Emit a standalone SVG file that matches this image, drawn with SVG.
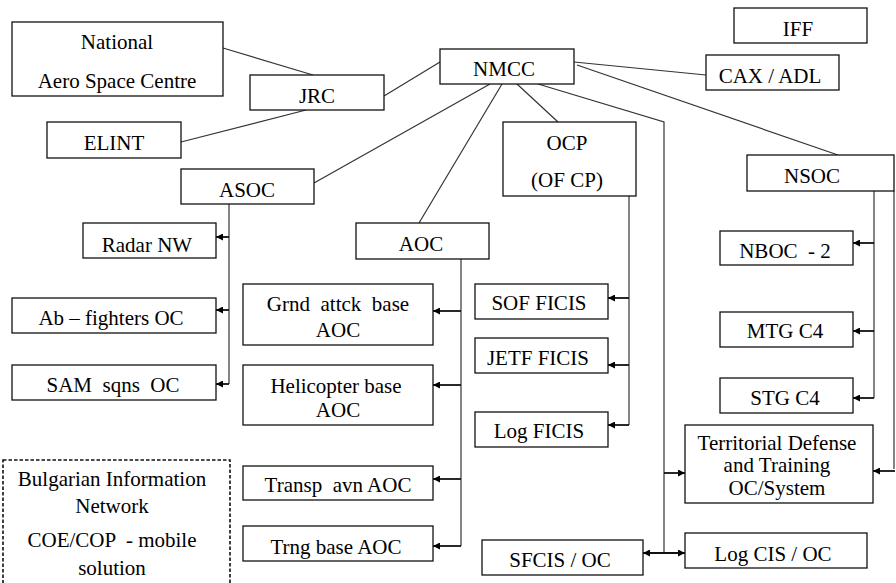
<svg xmlns="http://www.w3.org/2000/svg" width="896" height="583" viewBox="0 0 896 583">
  <defs>
    <marker id="arr" viewBox="0 0 10 10" refX="10" refY="5" markerWidth="8" markerHeight="7" markerUnits="userSpaceOnUse" orient="auto-start-reverse">
      <path d="M0,0 L10,5 L0,10 z" fill="#000"/>
    </marker>
    <style>
      .box { fill: #fff; stroke: #111; stroke-width: 1.3; }
      .dash { fill: none; stroke: #111; stroke-width: 1.6; stroke-dasharray: 3.5 2; }
      .ln { fill: none; stroke: #333; stroke-width: 1.2; }
      .ar { fill: none; stroke: #111; stroke-width: 1.8; marker-end: url(#arr); }
      .ar2 { fill: none; stroke: #111; stroke-width: 1.8; marker-start: url(#arr); marker-end: url(#arr); }
      text { font-family: "Liberation Serif", "Times New Roman", serif; font-size: 21px; fill: #000; text-anchor: middle; }
    </style>
  </defs>

  <!-- connectors -->
  <g id="connectors">
    <line class="ln" x1="223" y1="48" x2="313" y2="75"/>
    <line class="ln" x1="181" y1="142" x2="306" y2="110"/>
    <line class="ln" x1="384" y1="96" x2="440" y2="62"/>
    <line class="ln" x1="314" y1="183" x2="490" y2="84"/>
    <line class="ln" x1="502" y1="84" x2="419" y2="223"/>
    <line class="ln" x1="517" y1="84" x2="558" y2="122"/>
    <polyline class="ln" points="538,84 664,122 664,553"/>
    <line class="ln" x1="574" y1="62" x2="706" y2="75"/>
    <line class="ln" x1="577" y1="65" x2="838" y2="155"/>

    <!-- ASOC branch -->
    <line class="ln" x1="229" y1="204" x2="229" y2="384"/>
    <line class="ar" x1="229" y1="237" x2="216" y2="237"/>
    <line class="ar" x1="229" y1="310" x2="216" y2="310"/>
    <line class="ar" x1="229" y1="384" x2="216" y2="384"/>

    <!-- AOC branch -->
    <line class="ln" x1="461" y1="259" x2="461" y2="546"/>
    <line class="ar" x1="461" y1="311" x2="433" y2="311"/>
    <line class="ar" x1="461" y1="385" x2="433" y2="385"/>
    <line class="ar" x1="461" y1="479" x2="433" y2="479"/>
    <line class="ar" x1="461" y1="546" x2="433" y2="546"/>

    <!-- OCP branch -->
    <polyline class="ln" points="629,196 629,425"/>
    <line class="ar" x1="629" y1="298" x2="608" y2="298"/>
    <line class="ar" x1="629" y1="365" x2="608" y2="365"/>
    <line class="ar" x1="629" y1="425" x2="608" y2="425"/>

    <!-- NMCC trunk to lower nodes -->
    <line class="ar" x1="664" y1="473" x2="685" y2="473"/>
    <line class="ar2" x1="643" y1="553" x2="685" y2="553"/>

    <!-- NSOC branch -->
    <line class="ln" x1="874" y1="191" x2="874" y2="398"/>
    <line class="ar" x1="874" y1="243" x2="853" y2="243"/>
    <line class="ar" x1="874" y1="331" x2="853" y2="331"/>
    <line class="ar" x1="874" y1="398" x2="853" y2="398"/>
    <line class="ln" x1="894" y1="191" x2="894" y2="469"/>
    <line class="ar" x1="895" y1="471" x2="873" y2="471"/>
  </g>

  <g id="national">
    <rect class="box" x="12" y="22" width="211" height="74"/>
    <text x="117" y="49">National</text>
    <text x="117" y="88">Aero Space Centre</text>
  </g>
  <g id="jrc">
    <rect class="box" x="250" y="75" width="134" height="35"/>
    <text x="317" y="103">JRC</text>
  </g>
  <g id="elint">
    <rect class="box" x="47" y="122" width="134" height="36"/>
    <text x="114" y="150">ELINT</text>
  </g>
  <g id="nmcc">
    <rect class="box" x="440" y="49" width="134" height="35"/>
    <text x="504" y="76">NMCC</text>
  </g>
  <g id="iff">
    <rect class="box" x="734" y="8" width="133" height="35"/>
    <text x="798" y="36">IFF</text>
  </g>
  <g id="cax">
    <rect class="box" x="706" y="55" width="133" height="35"/>
    <text x="770" y="83">CAX / ADL</text>
  </g>
  <g id="asoc">
    <rect class="box" x="181" y="169" width="133" height="35"/>
    <text x="247" y="197">ASOC</text>
  </g>
  <g id="ocp">
    <rect class="box" x="503" y="122" width="133" height="74"/>
    <text x="567" y="150">OCP</text>
    <text x="567" y="187">(OF CP)</text>
  </g>
  <g id="nsoc">
    <rect class="box" x="747" y="155" width="147" height="36"/>
    <text x="812" y="183">NSOC</text>
  </g>
  <g id="aoc">
    <rect class="box" x="356" y="223" width="133" height="36"/>
    <text x="421" y="251">AOC</text>
  </g>
  <g id="radar">
    <rect class="box" x="83" y="223" width="133" height="35"/>
    <text x="147" y="252">Radar NW</text>
  </g>
  <g id="ab-fighters">
    <rect class="box" x="12" y="298" width="204" height="35"/>
    <text x="111" y="325">Ab – fighters OC</text>
  </g>
  <g id="sam">
    <rect class="box" x="12" y="365" width="204" height="35"/>
    <text x="113" y="392" xml:space="preserve">SAM  sqns  OC</text>
  </g>
  <g id="grnd">
    <rect class="box" x="243" y="284" width="190" height="61"/>
    <text x="338" y="311" xml:space="preserve">Grnd  attck  base</text>
    <text x="338" y="337">AOC</text>
  </g>
  <g id="heli">
    <rect class="box" x="243" y="365" width="190" height="60"/>
    <text x="336" y="393">Helicopter base</text>
    <text x="338" y="417">AOC</text>
  </g>
  <g id="transp">
    <rect class="box" x="243" y="466" width="190" height="34"/>
    <text x="338" y="492" xml:space="preserve">Transp  avn AOC</text>
  </g>
  <g id="trng">
    <rect class="box" x="243" y="526" width="190" height="35"/>
    <text x="336" y="554">Trng base AOC</text>
  </g>
  <g id="sof">
    <rect class="box" x="475" y="284" width="133" height="35"/>
    <text x="539" y="310">SOF FICIS</text>
  </g>
  <g id="jetf">
    <rect class="box" x="475" y="338" width="133" height="35"/>
    <text x="538" y="365">JETF FICIS</text>
  </g>
  <g id="logficis">
    <rect class="box" x="475" y="412" width="133" height="35"/>
    <text x="539" y="438">Log FICIS</text>
  </g>
  <g id="nboc">
    <rect class="box" x="720" y="231" width="133" height="34"/>
    <text x="785" y="258" xml:space="preserve">NBOC  - 2</text>
  </g>
  <g id="mtg">
    <rect class="box" x="720" y="312" width="133" height="35"/>
    <text x="785" y="338">MTG C4</text>
  </g>
  <g id="stg">
    <rect class="box" x="720" y="378" width="133" height="35"/>
    <text x="785" y="405">STG C4</text>
  </g>
  <g id="territorial">
    <rect class="box" x="685" y="425" width="188" height="78"/>
    <text x="777" y="450">Territorial Defense</text>
    <text x="777" y="472">and Training</text>
    <text x="777" y="495">OC/System</text>
  </g>
  <g id="sfcis">
    <rect class="box" x="482" y="540" width="161" height="35"/>
    <text x="560" y="567">SFCIS / OC</text>
  </g>
  <g id="logcis">
    <rect class="box" x="685" y="533" width="182" height="35"/>
    <text x="773" y="561">Log CIS / OC</text>
  </g>
  <g id="bin">
    <rect class="dash" x="3" y="460" width="227" height="140"/>
    <text x="112" y="486">Bulgarian Information</text>
    <text x="112" y="513">Network</text>
    <text x="112" y="547" xml:space="preserve">COE/COP  - mobile</text>
    <text x="112" y="575">solution</text>
  </g>
</svg>
